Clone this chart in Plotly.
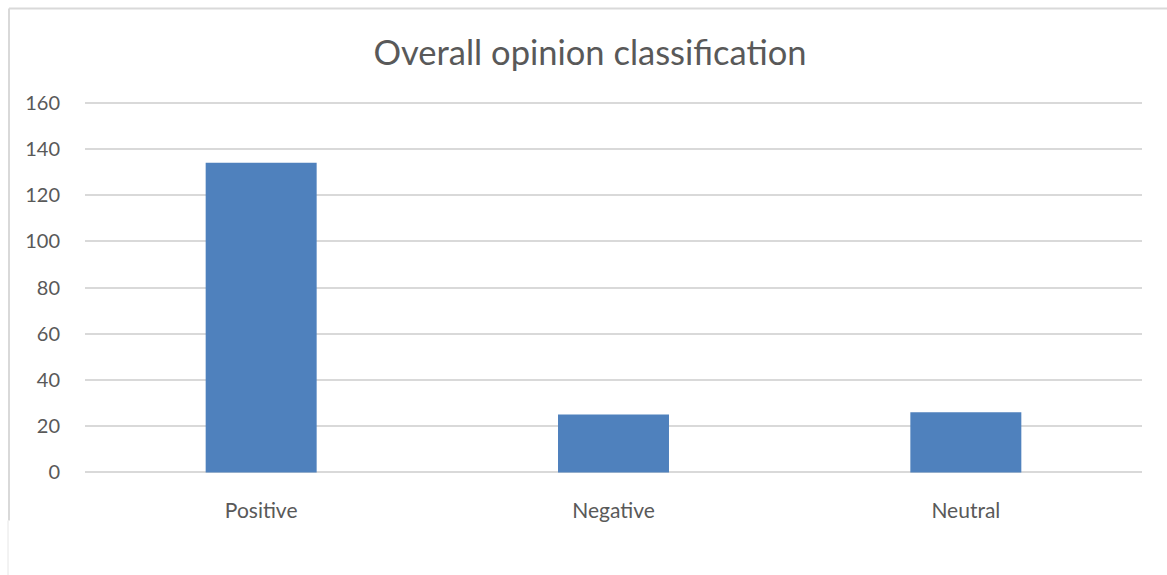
import plotly.graph_objects as go

categories = ["Positive", "Negative", "Neutral"]
values = [134, 25, 26]
y_ticks = [0, 20, 40, 60, 80, 100, 120, 140, 160]

W, H = 1167, 575
L, R = 85, 25
PAD = 2  # small range padding so the edge gridlines are drawn
px_per_unit = (472 - 103) / 160
T = 103 - PAD * px_per_unit
B = (H - 472) - PAD * px_per_unit
FONT = "Lato"
TXT = "#595959"

fig = go.Figure(go.Bar(
    x=categories, y=values,
    marker=dict(color="#4F81BD", line=dict(width=0)),
    width=0.315,
))

fig.update_layout(
    width=W, height=H,
    margin=dict(l=L, r=R, t=T, b=B, autoexpand=False),
    paper_bgcolor="white", plot_bgcolor="white",
    font=dict(family=FONT, color=TXT),
    showlegend=False,
    title=dict(text="Overall opinion classification", x=590 / W, xanchor="center",
               xref="container", y=1 - 53 / H, yanchor="middle", yref="container",
               font=dict(family=FONT, size=34.5, color=TXT)),
    xaxis=dict(showgrid=False, showline=False, zeroline=False,
               ticks="outside", ticklen=15, tickcolor="rgba(0,0,0,0)",
               tickfont=dict(family=FONT, size=21, color=TXT)),
    yaxis=dict(range=[-PAD, 160 + PAD], tickvals=y_ticks, showgrid=True, gridcolor="#D9D9D9",
               gridwidth=1.5, zeroline=False, showline=False,
               ticks="outside", ticklen=20, tickcolor="rgba(0,0,0,0)",
               tickfont=dict(family=FONT, size=20, color=TXT)),
)

# chart frame (cropped) lines, positioned in pixels via paper fractions
pw = W - L - R
ph = H - T - B
def px_x(x):
    return (x - L) / pw
def px_y(y):
    return (H - B - y) / ph

fig.add_shape(type="line", xref="paper", yref="paper",
              x0=px_x(9), x1=px_x(W + 5), y0=px_y(9), y1=px_y(9),
              line=dict(color="#D9D9D9", width=2), layer="below")
fig.add_shape(type="line", xref="paper", yref="paper",
              x0=px_x(9), x1=px_x(9), y0=px_y(520), y1=px_y(9),
              line=dict(color="#D9D9D9", width=2), layer="below")
fig.add_shape(type="line", xref="paper", yref="paper",
              x0=px_x(8), x1=px_x(8), y0=px_y(H + 5), y1=px_y(520),
              line=dict(color="#E6E6E6", width=1), layer="below")

fig.write_html("out.html")
